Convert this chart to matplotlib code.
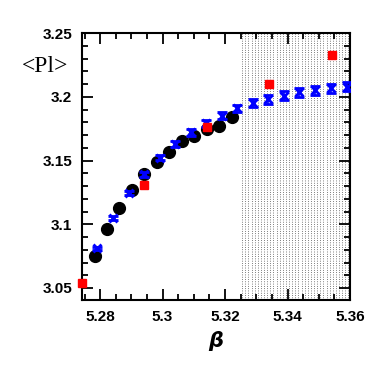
import numpy as np
import matplotlib.pyplot as plt

# red squares
beta_red = [5.2742, 5.2942, 5.3142, 5.3342, 5.3541]
pl_red = [3.0542, 3.1305, 3.1760, 3.2100, 3.2328]

# black circles
beta_blk = [5.2784, 5.2822, 5.2862, 5.2902, 5.2942, 5.2982, 5.3022, 5.3062, 5.3102, 5.3142, 5.3182, 5.3222]
pl_blk = [3.0752, 3.0959, 3.1125, 3.1266, 3.1391, 3.1492, 3.1570, 3.1651, 3.1695, 3.1750, 3.1773, 3.1838]

# blue crosses with errors
beta_blu = [5.2791, 5.2842, 5.2892, 5.2942, 5.2991, 5.3041, 5.3091, 5.3139, 5.3189, 5.3239,
            5.3289, 5.3339, 5.3389, 5.3438, 5.3488, 5.3539, 5.3589]
pl_blu = [3.0810, 3.1049, 3.1245, 3.1391, 3.1521, 3.1630, 3.1721, 3.1791, 3.1852, 3.1909,
          3.1948, 3.1982, 3.2008, 3.2034, 3.2052, 3.2068, 3.2078]
err_blu = [0.0012, 0.0012, 0.0015, 0.0020, 0.0020, 0.0022, 0.0025, 0.0030, 0.0030, 0.0030,
           0.0032, 0.0035, 0.0035, 0.0035, 0.0035, 0.0035, 0.0035]

# dotted band (metastable region)
band_lo, band_hi, band_step = 5.3255, 5.3600, 0.001

fig = plt.figure(figsize=(3.82, 3.82), dpi=100)
ax = fig.add_axes([0.2147, 0.2147, 0.7015, 0.6989])

for xv in np.arange(band_lo, band_hi, band_step):
    ax.axvline(xv, color='#333333', ls=(0, (1, 2)), lw=0.55, zorder=0)

ax.plot(beta_blk, pl_blk, 'o', color='black', ms=8.5, zorder=2)
ax.errorbar(beta_blu, pl_blu, yerr=err_blu, fmt='x', color='blue', ms=6, mew=2,
            elinewidth=1.2, capsize=3.5, capthick=2, zorder=3)
ax.plot(beta_red, pl_red, 's', color='red', ms=6, zorder=4, clip_on=False)

ax.set_xlim(5.2742, 5.36)
ax.set_ylim(3.0406, 3.25)
ax.set_xticks([5.28, 5.3, 5.32, 5.34, 5.36])
ax.set_xticklabels(['5.28', '5.3', '5.32', '5.34', '5.36'])
ax.set_xticks(np.arange(5.275, 5.3601, 0.005), minor=True)
ax.set_yticks([3.05, 3.1, 3.15, 3.2, 3.25])
ax.set_yticklabels(['3.05', '3.1', '3.15', '3.2', '3.25'])
ax.set_yticks(np.arange(3.05, 3.2501, 0.01), minor=True)

ax.tick_params(which='both', direction='in', top=True, right=True, width=1.3,
               labelsize=11)
ax.tick_params(which='major', length=8, pad=7)
ax.tick_params(which='minor', length=4)
for s in ax.spines.values():
    s.set_linewidth(1.5)
for lab in ax.get_xticklabels() + ax.get_yticklabels():
    lab.set_family('Liberation Sans')
    lab.set_fontweight('bold')

fig.text(45/382, 1 - 66/382, '<Pl>', family='Liberation Serif', fontsize=17,
         ha='center', va='center')
fig.text(216/382, 1 - 341/382, 'β', family='DejaVu Sans', style='italic',
         fontweight='bold', fontsize=15, ha='center', va='center')

fig.savefig('out.png', dpi=100)
